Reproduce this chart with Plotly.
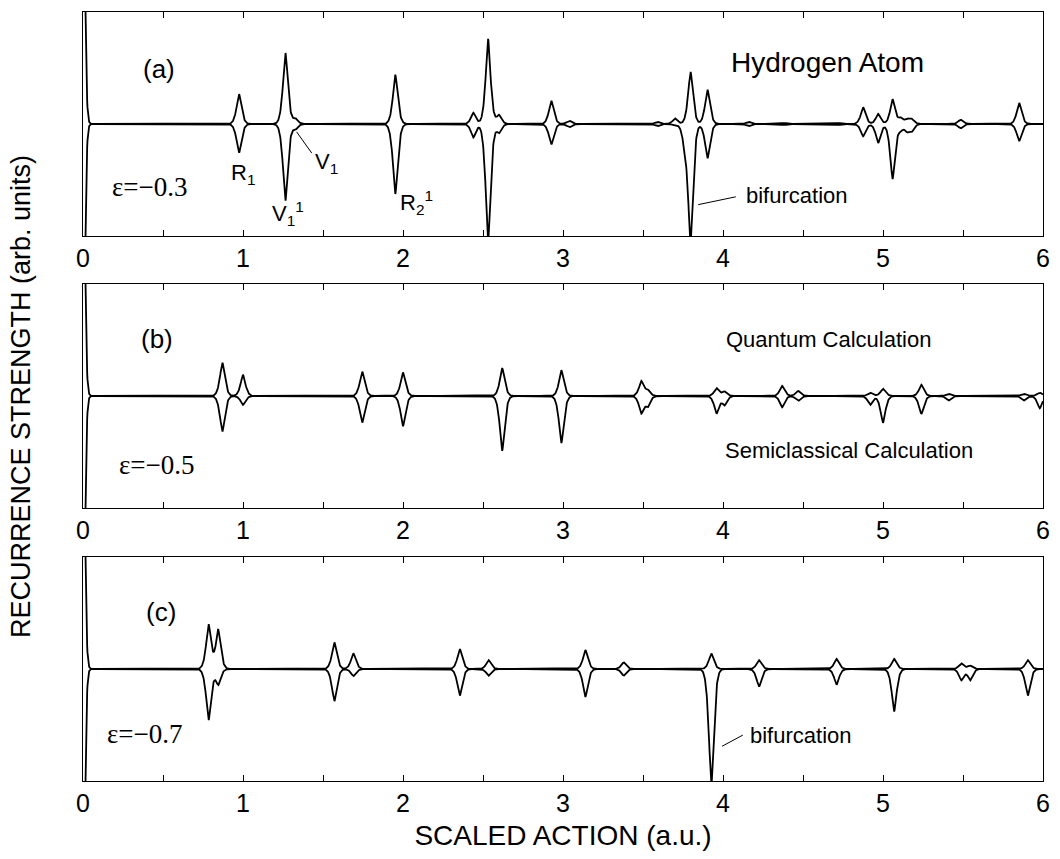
import numpy as np
import plotly.graph_objects as go

# ---- Recurrence peaks: scaled action, quantum strength (up), semiclassical strength (down)
# panel (a)  epsilon = -0.3
a_action = [0.975, 1.265, 1.327, 1.952, 2.44, 2.532, 2.60, 2.927, 3.04, 3.59, 3.70, 3.76, 3.797,
            3.903, 4.16, 4.38, 4.72, 4.876, 4.97, 5.06, 5.11, 5.15, 5.18, 5.485, 5.851]
a_quantum = [0.27, 0.64, 0.05, 0.44, 0.10, 0.76, 0.08, 0.21, 0.03, 0.02, 0.05, 0.0, 0.47,
             0.31, 0.02, 0.01, 0.01, 0.15, 0.09, 0.22, 0.05, 0.04, 0.04, 0.04, 0.19]
a_semi = [0.26, 0.69, 0.05, 0.625, 0.12, 1.05, 0.08, 0.185, 0.03, 0.02, 0.01, 0.15, 1.05,
          0.31, 0.02, 0.01, 0.01, 0.11, 0.17, 0.49, 0.05, 0.06, 0.06, 0.04, 0.155]

# panel (b)  epsilon = -0.5
b_action = [0.871, 1.0, 1.745, 2.0, 2.62, 2.99, 3.49, 3.53, 3.96, 4.01, 4.37, 4.47,
            4.92, 5.0, 5.24, 5.41, 5.88, 5.98]
b_quantum = [0.30, 0.19, 0.22, 0.21, 0.25, 0.23, 0.13, 0.05, 0.07, 0.04, 0.09, 0.045,
             0.03, 0.065, 0.10, 0.02, 0.02, 0.03]
b_semi = [0.32, 0.08, 0.24, 0.27, 0.49, 0.42, 0.15, 0.09, 0.155, 0.08, 0.10, 0.045,
          0.08, 0.24, 0.16, 0.04, 0.04, 0.11]

# panel (c)  epsilon = -0.7
c_action = [0.785, 0.845, 1.571, 1.69, 2.355, 2.535, 3.14, 3.38, 3.927, 4.225, 4.71,
            5.07, 5.49, 5.545, 5.905]
c_quantum = [0.40, 0.35, 0.24, 0.14, 0.18, 0.08, 0.17, 0.06, 0.14, 0.08, 0.09,
             0.09, 0.05, 0.03, 0.08]
c_semi = [0.46, 0.14, 0.29, 0.065, 0.24, 0.06, 0.25, 0.06, 1.05, 0.16, 0.14,
          0.38, 0.10, 0.10, 0.24]

# the zero-action spike runs far off scale in every panel
origin_strength = 3.5

x_ticks = [0, 1, 2, 3, 4, 5, 6]
PEAK_WIDTH = 0.022
ORIGIN_WIDTH = 0.013

grid = np.linspace(0, 6, 3001)


def spectrum(actions, strengths):
    total = origin_strength * np.exp(-np.abs(grid / ORIGIN_WIDTH) ** 1.5)
    for s0, amp in zip(actions, strengths):
        total += amp * np.exp(-np.abs((grid - s0) / PEAK_WIDTH) ** 1.5)
    return total


panels = [
    (a_action, a_quantum, a_semi),
    (b_action, b_quantum, b_semi),
    (c_action, c_quantum, c_semi),
]
domains = [[0.7087, 1.0], [0.355, 0.6463], [0.0, 0.2913]]

sans = "Liberation Sans, Arial, sans-serif"
serif = "Liberation Serif, Times New Roman, serif"

fig = go.Figure()
line_style = dict(color="black", width=1.8)
for i, (act, qu, se) in enumerate(panels):
    ax = "" if i == 0 else str(i + 1)
    fig.add_trace(go.Scatter(x=grid, y=spectrum(act, qu), mode="lines", line=line_style,
                             xaxis="x" + ax, yaxis="y" + ax, hoverinfo="skip", showlegend=False))
    fig.add_trace(go.Scatter(x=grid, y=-spectrum(act, se), mode="lines", line=line_style,
                             xaxis="x" + ax, yaxis="y" + ax, hoverinfo="skip", showlegend=False))

tick_font = dict(family=sans, size=25, color="black")
layout = dict(
    width=1060, height=859,
    margin=dict(l=83, r=10, t=12, b=78),
    paper_bgcolor="white", plot_bgcolor="white",
    font=dict(family=sans, color="black"),
)
for i in range(3):
    ax = "" if i == 0 else str(i + 1)
    layout["xaxis" + ax] = dict(
        domain=[0, 1], anchor="y" + ax, range=[0, 6],
        tickmode="array", tickvals=[v * 0.5 for v in range(13)],
        ticktext=[str(x_ticks[v // 2]) if v % 2 == 0 else "" for v in range(13)],
        ticks="inside", ticklen=6, tickcolor="black", tickwidth=1,
        showline=True, linecolor="black", linewidth=1, mirror="allticks",
        showgrid=False, zeroline=False, tickfont=tick_font,
    )
    layout["yaxis" + ax] = dict(
        domain=domains[i], anchor="x" + ax, range=[-1, 1],
        showticklabels=False, ticks="", showline=True, linecolor="black",
        linewidth=1, mirror=True, showgrid=False, zeroline=False,
    )
layout["xaxis3"]["title"] = dict(text="SCALED ACTION (a.u.)",
                                 font=dict(size=28, family=sans),
                                 standoff=9)
fig.update_layout(**layout)


def label(text, x, y, panel, size=22, family=sans):
    ax = "" if panel == 0 else str(panel + 1)
    fig.add_annotation(text=text, x=x, y=y, xref="x" + ax, yref="y" + ax,
                       showarrow=False, font=dict(size=size, family=family, color="black"))


def pointer(x0, y0, x1, y1, panel):
    ax = "" if panel == 0 else str(panel + 1)
    fig.add_shape(type="line", x0=x0, y0=y0, x1=x1, y1=y1, xref="x" + ax, yref="y" + ax,
                  line=dict(color="black", width=1))


# panel (a)
label("(a)", 0.475, 0.49, 0, size=26)
label("Hydrogen Atom", 4.65, 0.55, 0, size=28)
label("ε=−0.3", 0.416, -0.56, 0, size=27, family=serif)
label("R<sub>1</sub>", 1.0, -0.45, 0, size=22)
label("V<sub>1</sub>", 1.52, -0.35, 0, size=22)
label("V<sub>1</sub><sup>1</sup>", 1.28, -0.80, 0, size=22)
label("R<sub>2</sub><sup>1</sup>", 2.085, -0.70, 0, size=22)
label("bifurcation", 4.46, -0.64, 0, size=22)
pointer(1.335, -0.07, 1.43, -0.26, 0)
pointer(3.845, -0.72, 4.08, -0.65, 0)

# panel (b)
label("(b)", 0.463, 0.51, 1, size=26)
label("ε=−0.5", 0.463, -0.62, 1, size=27, family=serif)
label("Quantum Calculation", 4.66, 0.50, 1, size=22)
label("Semiclassical Calculation", 4.786, -0.49, 1, size=22)

# panel (c)
label("(c)", 0.49, 0.51, 2, size=26)
label("ε=−0.7", 0.385, -0.58, 2, size=27, family=serif)
label("bifurcation", 4.485, -0.59, 2, size=22)
pointer(3.994, -0.69, 4.124, -0.59, 2)

# shared vertical title
fig.add_annotation(text="RECURRENCE STRENGTH (arb. units)", xref="paper", yref="paper",
                   x=-0.065, y=0.5, textangle=-90, showarrow=False, xanchor="center",
                   font=dict(size=27, family=sans, color="black"))

fig.write_html("out.html")
